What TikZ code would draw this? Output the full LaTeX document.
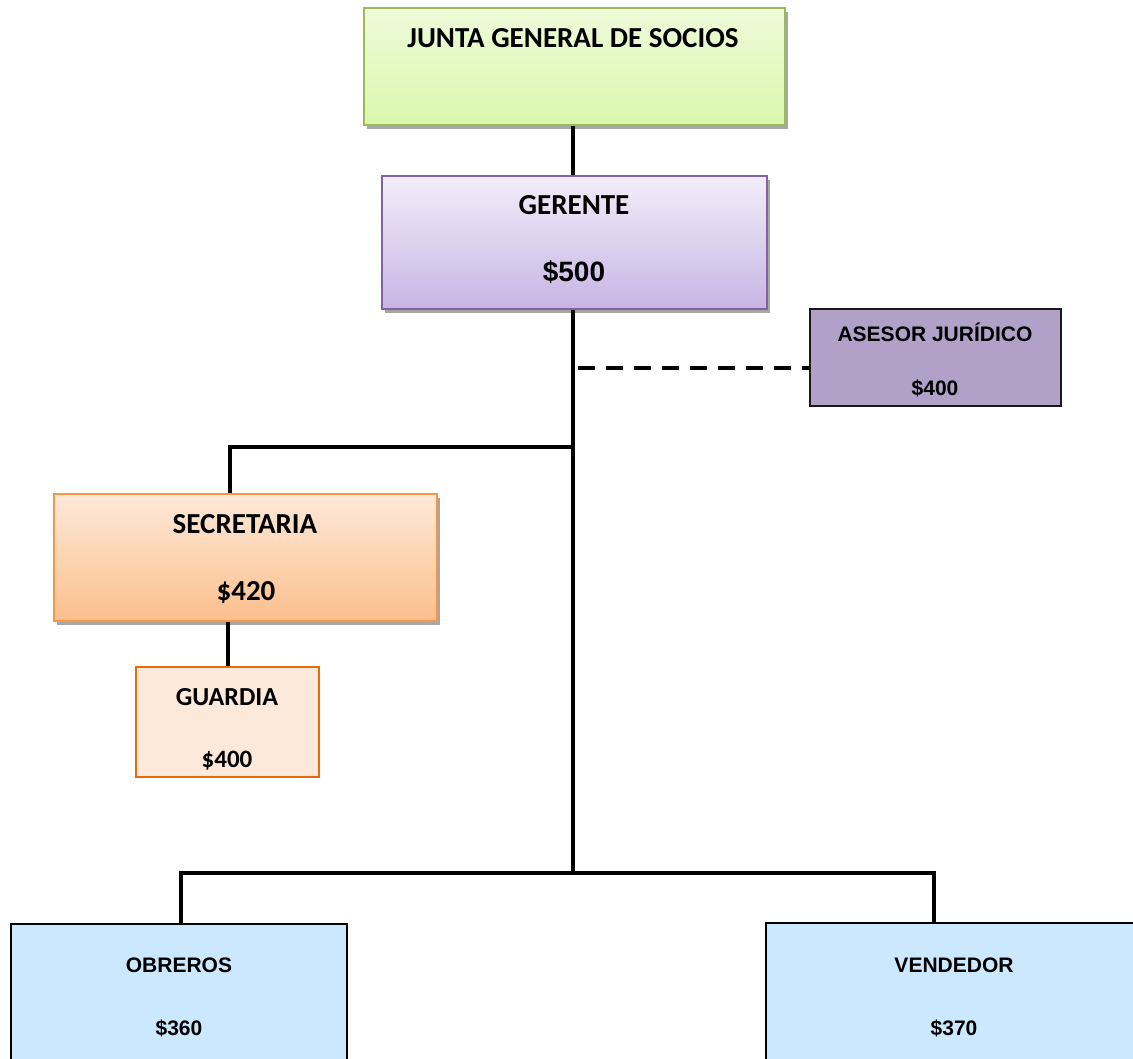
\documentclass[tikz,border=0pt]{standalone}
\usepackage{fontspec}
\setmainfont{Carlito}
\newfontfamily\arialf{Liberation Sans}
\usetikzlibrary{shadows,fit}

\definecolor{jgTop}{HTML}{EEFBDA}
\definecolor{jgBot}{HTML}{DAF7AC}
\definecolor{jgLine}{HTML}{9BBB59}
\definecolor{grTop}{HTML}{F2EDF9}
\definecolor{grBot}{HTML}{C8B4E4}
\definecolor{grLine}{HTML}{8064A2}
\definecolor{seTop}{HTML}{FDE9D9}
\definecolor{seBot}{HTML}{FBBF8C}
\definecolor{seLine}{HTML}{F79646}
\definecolor{guFill}{HTML}{FDE9D9}
\definecolor{guLine}{HTML}{E46C0A}
\definecolor{asFill}{HTML}{B1A0C7}
\definecolor{blFill}{HTML}{CCE8FE}
\definecolor{shade}{HTML}{A6A6A6}

\tikzset{
  boxbase/.style={inner sep=0pt, line width=1.1pt},
  shadowed/.style={drop shadow={shadow xshift=2.2pt, shadow yshift=-3pt, fill=shade, opacity=1}},
  jgbox/.style={boxbase, shadowed, draw=jgLine, top color=jgTop, bottom color=jgBot},
  grbox/.style={boxbase, shadowed, draw=grLine, top color=grTop, bottom color=grBot},
  sebox/.style={boxbase, shadowed, draw=seLine, top color=seTop, bottom color=seBot},
  gubox/.style={boxbase, draw=guLine, fill=guFill},
  asbox/.style={boxbase, draw=black!90, fill=asFill},
  blbox/.style={boxbase, draw=black, fill=blFill},
  cal/.style={anchor=base, inner sep=0pt, font=\bfseries\fontsize{#1}{#1}\selectfont},
  ari/.style={anchor=base, inner sep=0pt, font=\arialf\bfseries\fontsize{#1}{#1}\selectfont},
  conn/.style={draw=black, line width=2.6pt},
  dconn/.style={conn, dash pattern=on 12.75pt off 8.25pt}
}

\begin{document}
\begin{tikzpicture}[x=0.75pt, y=-0.75pt]
\useasboundingbox (0,0) rectangle (1133,1059);
\clip (0,0) rectangle (1133,1059);

% boxes
\node[jgbox, fit={(364,8) (785,125)}] (jgs) {};
\node[grbox, fit={(382,176) (767,309)}] (ger) {};
\node[asbox, fit={(810,309) (1061,406)}] (ase) {};
\node[sebox, fit={(54,494) (437,621)}] (sec) {};
\node[gubox, fit={(136,667) (319,777)}] (gua) {};
\node[blbox, fit={(11,924) (347,1075)}] (obr) {};
\node[blbox, fit={(766,923) (1142,1075)}] (ven) {};

% texts
\node[cal=21.75pt] (jgsT) at (573,48) {JUNTA GENERAL DE SOCIOS};
\node[cal=21.75pt] (gerT) at (574,215) {GERENTE};
\node[ari=21pt] (gerS) at (574,282) {\$500};
\node[ari=15.75pt] (aseT) at (935,342) {ASESOR JURÍDICO};
\node[ari=15.75pt] (aseS) at (935,396) {\$400};
\node[cal=21.75pt] (secT) at (245,533) {SECRETARIA};
\node[cal=21.75pt] (secS) at (246,600) {\$420};
\node[cal=19.5pt] (guaT) at (227,705) {GUARDIA};
\node[cal=18.75pt] (guaS) at (227,767) {\$400};
\node[ari=15.75pt] (obrT) at (179,972) {OBREROS};
\node[ari=15.75pt] (obrS) at (179,1035) {\$360};
\node[ari=15.75pt] (venT) at (954,972) {VENDEDOR};
\node[ari=15.75pt] (venS) at (954,1035) {\$370};

% connector coordinates
\coordinate (trunk) at (573,0);
\coordinate (secJ) at (230,447);
\coordinate (guX) at (228,0);
\coordinate (dsh) at (578,368);
\coordinate (botL) at (181,873);
\coordinate (botR) at (934,873);

% connectors
\draw[conn] (jgs.south -| trunk) -- (ger.north -| trunk);
\draw[conn] (ger.south -| trunk) -- (trunk |- botL);
\draw[dconn] (dsh) -- (ase.west |- dsh);
\draw[conn] (trunk |- secJ) -- (secJ) -- (secJ |- sec.north);
\draw[conn] (sec.south -| guX) -- (gua.north -| guX);
\draw[conn] (botL |- obr.north) -- (botL) -- (botR) -- (botR |- ven.north);
\end{tikzpicture}
\end{document}
